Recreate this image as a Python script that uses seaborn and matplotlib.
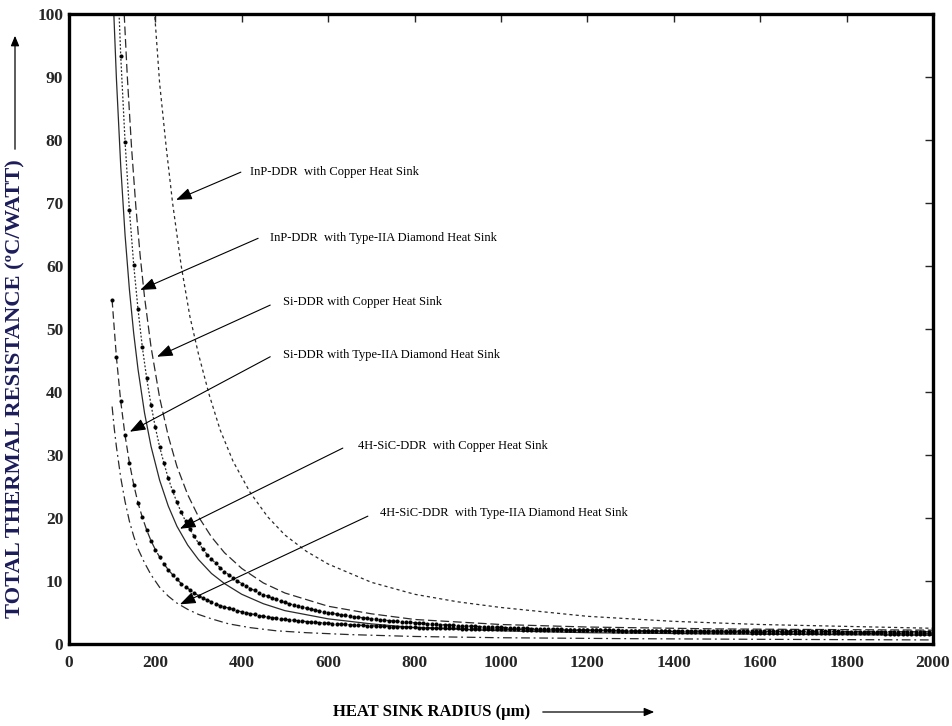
import matplotlib
matplotlib.use("Agg")
import matplotlib.pyplot as plt
from matplotlib.patches import FancyArrowPatch
import seaborn as sns
import pandas as pd

# ---------------- data ----------------
# solid curve
r_a = [104, 110, 120, 130, 140, 150, 160, 175, 190, 210, 230, 250, 275, 300, 330, 360,
       400, 450, 500, 600, 700, 800, 1000, 1200, 1500, 2000]
res_a = [100.0, 89.7, 75.8, 64.9, 56.3, 49.3, 43.6, 36.7, 31.4, 26.0, 21.9, 18.7, 15.7, 13.4,
         11.2, 9.6, 7.9, 6.4, 5.3, 4.0, 3.2, 2.6, 2.1, 1.8, 1.6, 1.4]

# dotted curve with dot markers (points every 10 um)
r_b = list(range(110, 2001, 10))
res_b = [110.8, 93.3, 79.7, 68.9, 60.2, 53.1, 47.1, 42.2, 38.0, 34.4,
         31.3, 28.7, 26.3, 24.3, 22.5, 20.9, 19.5, 18.2, 17.1, 16.0,
         15.1, 14.2, 13.5, 12.8, 12.1, 11.5, 11.0, 10.5, 10.0, 9.6,
         9.2, 8.8, 8.5, 8.1, 7.8, 7.6, 7.3, 7.1, 6.8, 6.6,
         6.4, 6.2, 6.0, 5.8, 5.7, 5.5, 5.4, 5.2, 5.1, 5.0,
         4.86, 4.75, 4.64, 4.53, 4.44, 4.34, 4.25, 4.17, 4.08, 4.00,
         3.93, 3.86, 3.79, 3.72, 3.66, 3.59, 3.53, 3.48, 3.42, 3.37,
         3.32, 3.27, 3.22, 3.18, 3.13, 3.09, 3.05, 3.01, 2.97, 2.94,
         2.90, 2.87, 2.83, 2.80, 2.77, 2.74, 2.71, 2.68, 2.65, 2.63,
         2.60, 2.57, 2.55, 2.53, 2.50, 2.48, 2.46, 2.44, 2.42, 2.40,
         2.38, 2.36, 2.34, 2.32, 2.30, 2.29, 2.27, 2.25, 2.24, 2.22,
         2.21, 2.20, 2.18, 2.17, 2.15, 2.14, 2.12, 2.11, 2.10, 2.08,
         2.07, 2.06, 2.05, 2.04, 2.03, 2.02, 2.01, 2.00, 1.99, 1.98,
         1.97, 1.96, 1.95, 1.94, 1.93, 1.92, 1.92, 1.91, 1.90, 1.89,
         1.88, 1.88, 1.87, 1.86, 1.85, 1.85, 1.84, 1.83, 1.83, 1.82,
         1.81, 1.81, 1.80, 1.80, 1.79, 1.78, 1.78, 1.77, 1.77, 1.76,
         1.75, 1.75, 1.74, 1.74, 1.73, 1.73, 1.72, 1.72, 1.71, 1.71,
         1.70, 1.70, 1.70, 1.69, 1.69, 1.68, 1.68, 1.68, 1.67, 1.67,
         1.66, 1.66, 1.66, 1.65, 1.65, 1.65, 1.64, 1.64, 1.64, 1.63]

# long-dashed curve
r_c = [128, 135, 145, 155, 165, 175, 190, 210, 230, 250, 275, 300, 330, 360, 400, 450,
       500, 600, 700, 800, 1000, 1200, 1500, 2000]
res_c = [100.0, 90.3, 78.8, 69.4, 61.6, 55.1, 47.2, 39.1, 33.0, 28.2, 23.7, 20.2, 17.0, 14.5,
         12.0, 9.7, 8.1, 6.0, 4.8, 3.9, 3.1, 2.7, 2.4, 2.2]

# short-dashed curve (highest)
r_d = [198, 210, 225, 240, 260, 280, 300, 325, 350, 380, 420, 460, 500, 550, 600, 700,
       800, 900, 1000, 1200, 1400, 1600, 1800, 2000]
res_d = [100.5, 89.0, 79.0, 70.0, 60.0, 52.0, 46.0, 39.5, 34.0, 29.0, 24.0, 20.2, 17.3, 14.7,
         12.7, 9.8, 7.9, 6.7, 5.8, 4.4, 3.6, 3.1, 2.8, 2.5]

# long-dashed curve with dot markers (points every 10 um)
r_e = list(range(100, 2001, 10))
res_e = [54.6,
         45.5, 38.5, 33.1, 28.8, 25.3, 22.4, 20.1, 18.1, 16.4, 15.0,
         13.8, 12.7, 11.8, 11.0, 10.3, 9.6, 9.1, 8.6, 8.1, 7.7,
         7.3, 7.0, 6.7, 6.4, 6.1, 5.9, 5.7, 5.5, 5.3, 5.1,
         5.0, 4.8, 4.7, 4.5, 4.4, 4.3, 4.2, 4.1, 4.0, 3.9,
         3.85, 3.77, 3.70, 3.63, 3.57, 3.50, 3.45, 3.39, 3.34, 3.29,
         3.24, 3.19, 3.15, 3.11, 3.07, 3.03, 3.00, 2.96, 2.93, 2.90,
         2.87, 2.84, 2.81, 2.78, 2.76, 2.73, 2.71, 2.69, 2.67, 2.65,
         2.62, 2.61, 2.59, 2.57, 2.55, 2.53, 2.52, 2.50, 2.49, 2.47,
         2.46, 2.44, 2.43, 2.42, 2.40, 2.39, 2.38, 2.37, 2.36, 2.35,
         2.34, 2.33, 2.32, 2.31, 2.30, 2.29, 2.28, 2.27, 2.26, 2.26,
         2.25, 2.24, 2.23, 2.23, 2.22, 2.21, 2.21, 2.20, 2.19, 2.19,
         2.18, 2.18, 2.17, 2.16, 2.16, 2.15, 2.15, 2.14, 2.14, 2.13,
         2.13, 2.12, 2.12, 2.11, 2.11, 2.11, 2.10, 2.10, 2.09, 2.09,
         2.09, 2.08, 2.08, 2.08, 2.07, 2.07, 2.06, 2.06, 2.06, 2.05,
         2.05, 2.05, 2.04, 2.04, 2.04, 2.03, 2.03, 2.03, 2.03, 2.03,
         2.02, 2.02, 2.02, 2.02, 2.01, 2.01, 2.01, 2.01, 2.00, 2.00,
         2.00, 2.00, 2.00, 1.99, 1.99, 1.99, 1.99, 1.99, 1.98, 1.98,
         1.98, 1.98, 1.98, 1.97, 1.97, 1.97, 1.97, 1.97, 1.97, 1.97,
         1.96, 1.96, 1.96, 1.96, 1.96, 1.96, 1.95, 1.95, 1.95, 1.95]

# dash-dot curve (lowest)
r_f = [100, 105, 110, 120, 130, 140, 150, 160, 175, 190, 210, 230, 250, 275, 300, 330,
       370, 420, 480, 550, 650, 800, 1000, 1300, 1600, 2000]
res_f = [37.7, 34.2, 31.3, 26.4, 22.6, 19.5, 17.1, 15.1, 12.9, 11.0, 9.0, 7.6, 6.5, 5.5,
         4.7, 4.0, 3.2, 2.6, 2.1, 1.8, 1.5, 1.2, 1.0, 0.85, 0.75, 0.65]

labels = ["InP-DDR  with Copper Heat Sink",
          "InP-DDR  with Type-IIA Diamond Heat Sink",
          "Si-DDR with Copper Heat Sink",
          "Si-DDR with Type-IIA Diamond Heat Sink",
          "4H-SiC-DDR  with Copper Heat Sink",
          "4H-SiC-DDR  with Type-IIA Diamond Heat Sink"]
# layout of the callouts (data coordinates)
label_text_xy = [(419, 74.9), (465, 64.4), (496, 54.3), (496, 45.9), (669, 31.4), (720, 20.8)]
arrow_start_xy = [(398, 74.9), (438, 64.4), (466, 53.8), (466, 45.6), (634, 31.1), (692, 20.3)]
arrow_tip_xy = [(248, 70.5), (165, 56.2), (204, 45.6), (141, 33.7), (257, 18.3), (257, 6.3)]

x_ticks = list(range(0, 2001, 200))
y_ticks = list(range(0, 101, 10))

# ---------------- styling ----------------
sns.set_style("white")
plt.rcParams['font.family'] = ['Liberation Serif', 'DejaVu Serif']

fig = plt.figure(figsize=(9.53, 7.26), dpi=100)
ax = fig.add_axes([0.0723, 0.1129, 0.9067, 0.8678])

line_col = "#2a2a2a"
curves = [
    (r_a, res_a, dict(linestyle="-")),
    (r_c, res_c, dict(linestyle=(0, (7, 3)))),
    (r_d, res_d, dict(linestyle=(0, (2.5, 2.5)))),
    (r_f, res_f, dict(linestyle=(0, (7, 3, 1.5, 3)))),
    (r_b, res_b, dict(linestyle=(0, (1.5, 1.5)), marker="o", markersize=2.2,
                      markerfacecolor="black", markeredgecolor="black")),
    (r_e, res_e, dict(linestyle=(0, (6, 3)), marker="o", markersize=2.2,
                      markerfacecolor="black", markeredgecolor="black")),
]
for xs, ys, kw in curves:
    df = pd.DataFrame({"r": xs, "R": ys})
    sns.lineplot(data=df, x="r", y="R", ax=ax, color=line_col, linewidth=0.9,
                 estimator=None, sort=False, legend=False, **kw)

ax.set_xlim(0, 2000)
ax.set_ylim(0, 100)
ax.set_xticks(x_ticks)
ax.set_yticks(y_ticks)
ax.set_xlabel("")
ax.set_ylabel("")
ax.tick_params(direction="in", top=True, right=True, length=6, width=1,
               labelsize=12.5)
ax.tick_params(axis="x", pad=8)
ax.tick_params(axis="y", pad=4)
for lab in ax.get_xticklabels() + ax.get_yticklabels():
    lab.set_fontweight("bold")
for sp in ax.spines.values():
    sp.set_linewidth(2.4)
    sp.set_color("black")

for txt, txy, start, tip in zip(labels, label_text_xy, arrow_start_xy, arrow_tip_xy):
    ax.text(txy[0], txy[1], txt, ha="left", va="center", fontsize=9, color="black")
    ax.annotate("", xy=tip, xytext=start,
                arrowprops=dict(arrowstyle="-|>,head_length=0.8,head_width=0.3",
                                mutation_scale=12, color="black", lw=0.8,
                                shrinkA=0, shrinkB=0))

# axis titles with arrows
fig.text(15 / 953, 1 - 389 / 726, "TOTAL THERMAL RESISTANCE (ºC/WATT)", rotation=90,
         ha="center", va="center", fontsize=16.2, fontweight="bold", color="#1c1c5a")
fig.add_artist(FancyArrowPatch((15 / 953, 1 - 152 / 726), (15 / 953, 1 - 33 / 726),
                               transform=fig.transFigure,
                               arrowstyle="-|>,head_length=0.6,head_width=0.25",
                               mutation_scale=10, color="black", lw=0.9))
fig.text(432 / 953, 1 - 712 / 726, "HEAT SINK RADIUS (µm)", ha="center", va="center",
         fontsize=12, fontweight="bold", color="black")
fig.add_artist(FancyArrowPatch((540 / 953, 1 - 712 / 726), (657 / 953, 1 - 712 / 726),
                               transform=fig.transFigure,
                               arrowstyle="-|>,head_length=0.6,head_width=0.25",
                               mutation_scale=10, color="black", lw=0.9))

fig.savefig("out.png", dpi=100, facecolor="white")
